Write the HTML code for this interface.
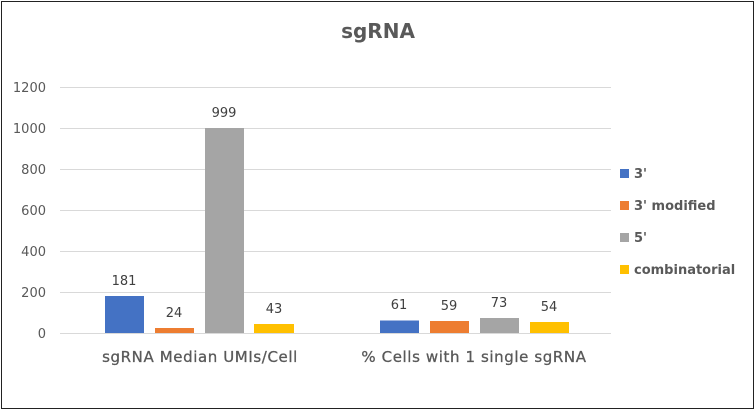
<!DOCTYPE html>
<html><head><style>body{margin:0;background:#fff}svg{display:block}text{font-family:"DejaVu Sans","Liberation Sans",sans-serif}</style></head>
<body>
<svg width="756" height="413" viewBox="0 0 756 413">
<rect x="1.5" y="1.5" width="752" height="407" fill="#fff" stroke="#222" stroke-width="1"/>
<text x="378" y="38" text-anchor="middle" font-size="20" font-weight="bold" fill="#595959">sgRNA</text>
<g stroke="#d9d9d9" stroke-width="1">
<line x1="60" x2="611" y1="87.5" y2="87.5"/><line x1="60" x2="611" y1="128.5" y2="128.5"/>
<line x1="60" x2="611" y1="169.5" y2="169.5"/><line x1="60" x2="611" y1="210.5" y2="210.5"/>
<line x1="60" x2="611" y1="251.5" y2="251.5"/><line x1="60" x2="611" y1="292.5" y2="292.5"/>
<line x1="60" x2="611" y1="333.5" y2="333.5"/></g>
<g font-size="13" fill="#595959" text-anchor="end">
<text x="46" y="92">1200</text><text x="46" y="133">1000</text><text x="46" y="174">800</text>
<text x="46" y="215">600</text><text x="46" y="256">400</text><text x="46" y="297">200</text><text x="46" y="338">0</text></g>
<rect x="105" y="296" width="39" height="37" fill="#4472c4"/>
<rect x="155" y="328" width="39" height="5" fill="#ed7d31"/>
<rect x="205" y="128" width="39" height="205" fill="#a5a5a5"/>
<rect x="254" y="324" width="40" height="9" fill="#ffc000"/>
<rect x="380" y="320.5" width="39" height="12.5" fill="#4472c4"/>
<rect x="430" y="321" width="39" height="12" fill="#ed7d31"/>
<rect x="480" y="318" width="39" height="15" fill="#a5a5a5"/>
<rect x="530" y="322" width="39" height="11" fill="#ffc000"/>
<g font-size="13" fill="#404040" text-anchor="middle">
<text x="124" y="285">181</text><text x="174" y="317">24</text><text x="224" y="117">999</text><text x="274" y="313">43</text>
<text x="399" y="309">61</text><text x="449" y="310">59</text><text x="499" y="307">73</text><text x="549" y="311">54</text></g>
<g font-size="15" fill="#595959" text-anchor="middle" letter-spacing="0.6" stroke="#595959" stroke-width="0.3">
<text x="200" y="362">sgRNA Median UMIs/Cell</text><text x="474" y="362">% Cells with 1 single sgRNA</text></g>
<rect x="620" y="169" width="9" height="9" fill="#4472c4"/>
<rect x="620" y="201" width="9" height="9" fill="#ed7d31"/>
<rect x="620" y="233" width="9" height="9" fill="#a5a5a5"/>
<rect x="620" y="265" width="9" height="9" fill="#ffc000"/>
<g font-size="13" font-weight="bold" fill="#595959">
<text x="634" y="178">3'</text><text x="634" y="210">3' modified</text><text x="634" y="242">5'</text><text x="634" y="274">combinatorial</text></g>
</svg>
</body></html>
